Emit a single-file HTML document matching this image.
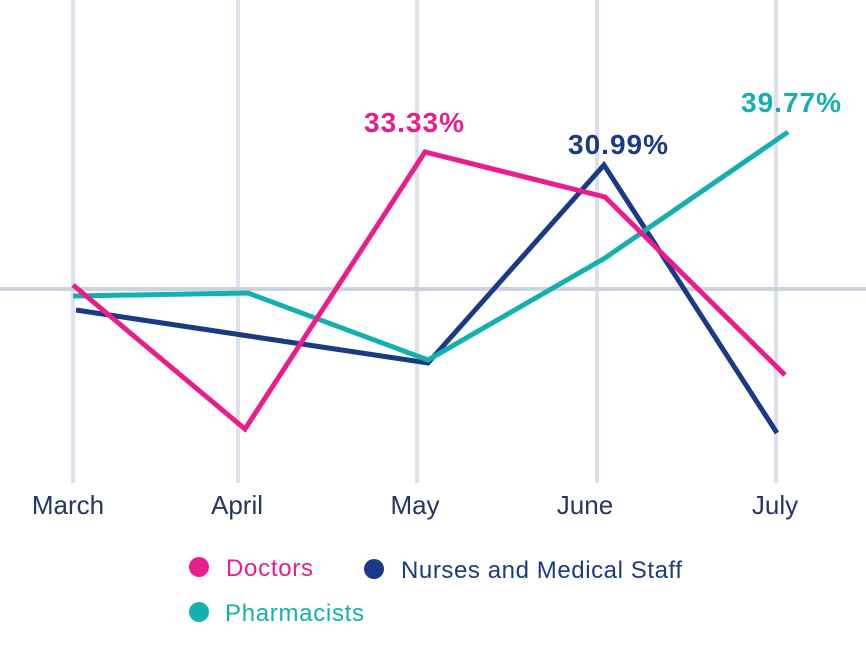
<!DOCTYPE html>
<html><head><meta charset="utf-8"><style>
html,body{margin:0;padding:0;background:#fff;}
svg{display:block;}
</style></head><body>
<svg width="866" height="660" viewBox="0 0 866 660" xmlns="http://www.w3.org/2000/svg" font-family="Liberation Sans, sans-serif">
<g stroke="#dde2ea" stroke-width="4">
<line x1="73" y1="0" x2="73" y2="483"/>
<line x1="238" y1="0" x2="238" y2="483"/>
<line x1="417" y1="0" x2="417" y2="483"/>
<line x1="597" y1="0" x2="597" y2="483"/>
<line x1="776" y1="0" x2="776" y2="483"/>
</g>
<line x1="0" y1="289" x2="866" y2="289" stroke="#cdd3dd" stroke-width="4"/>
<g fill="none" stroke-width="5" stroke-linejoin="miter">
<polyline stroke="#1a3a86" points="76,310 428,363 604,165 777,433"/>
<polyline stroke="#14b0b0" points="73,296 248,293 428,360 605,258 788,132"/>
<polyline stroke="#e91e8c" points="73,285 245,429 425,152 605,197 785,375"/>
</g>
<g font-weight="bold" font-size="28" text-anchor="middle">
<text x="414" y="132" fill="#e91e8c" textLength="100">33.33%</text>
<text x="618" y="154" fill="#1a3a86" textLength="100">30.99%</text>
<text x="791" y="112" fill="#14b0b0" textLength="100">39.77%</text>
</g>
<g font-size="26" fill="#243566" text-anchor="middle">
<text x="68" y="514">March</text>
<text x="237" y="514">April</text>
<text x="415" y="514">May</text>
<text x="585" y="514">June</text>
<text x="775" y="514">July</text>
</g>
<circle cx="199" cy="567" r="10" fill="#e91e8c"/>
<text x="226" y="576" font-size="24" fill="#e91e8c" textLength="87">Doctors</text>
<circle cx="374" cy="569" r="10" fill="#1a3a86"/>
<text x="401" y="578" font-size="24" fill="#1a3a86" textLength="281">Nurses and Medical Staff</text>
<circle cx="199" cy="612" r="10" fill="#14b0b0"/>
<text x="225" y="621" font-size="24" fill="#14b0b0" textLength="139">Pharmacists</text>
</svg>
</body></html>
